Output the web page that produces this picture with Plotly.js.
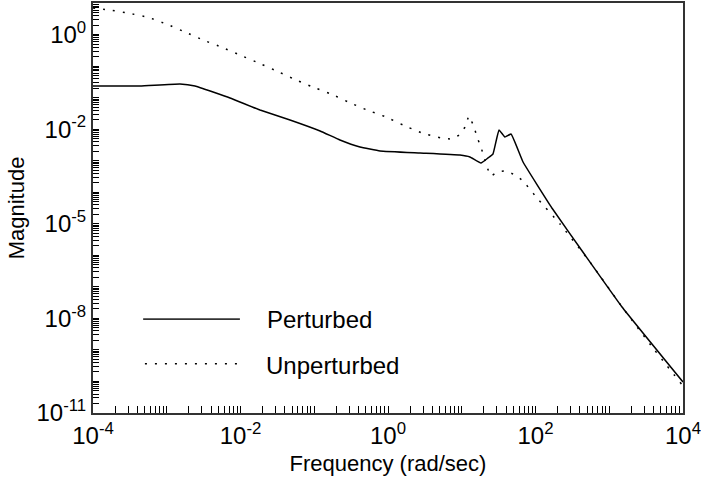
<!DOCTYPE html>
<html>
<head>
<meta charset="utf-8">
<script src="https://cdn.plot.ly/plotly-3.0.1.min.js"></script>
<style>html,body{margin:0;padding:0;background:#fff;}#chart{width:701px;height:484px;}</style>
</head>
<body>
<div id="chart"></div>
<script>
// Perturbed response (frequency in rad/sec, magnitude)
var perturbedFreq = [1.00e-4, 4.34e-4, 1.51e-3, 2.42e-3, 7.21e-3, 1.84e-2, 4.69e-2, 1.20e-1, 2.23e-1, 4.17e-1, 7.80e-1,
  2.72, 9.46, 12.9, 18.2, 22.7, 26.5, 32.0, 38.5, 46.6, 67.8, 167, 469, 1490, 10000];
var perturbedMag = [0.233, 0.233, 0.270, 0.233, 0.0970, 0.0405, 0.0195, 8.73e-3, 4.53e-3, 2.72e-3, 2.03e-3,
  1.75e-3, 1.51e-3, 1.31e-3, 8.43e-4, 1.22e-3, 1.63e-3, 9.40e-3, 5.64e-3, 7.01e-3, 9.08e-4, 3.16e-5, 1.02e-6, 2.30e-8, 9.62e-11];

// Unperturbed response
var unperturbedFreq = [1.00e-4, 1.70e-4, 3.08e-4, 5.57e-4, 1.01e-3, 1.82e-3, 3.10e-3, 5.61e-3, 9.84e-3, 1.73e-2, 3.03e-2,
  5.31e-2, 9.31e-2, 1.69e-1, 2.96e-1, 5.19e-1, 9.40e-1, 1.60, 2.89, 5.24, 7.38, 9.18, 11.1, 12.5, 14.7, 16.1, 18.2,
  20.0, 22.0, 24.9, 30.1, 39.8, 52.7, 67.8, 102, 215, 548, 1530, 3920, 10000];
var unperturbedMag = [69.3, 60.0, 47.1, 35.2, 21.1, 11.7, 6.70, 3.94, 2.24, 1.28, 0.713,
  0.389, 0.222, 0.130, 0.0710, 0.0405, 0.0243, 0.0135, 7.55e-3, 5.24e-3, 4.86e-3, 6.52e-3, 1.17e-2, 2.61e-2, 1.17e-2, 5.64e-3, 2.72e-3,
  1.31e-3, 6.31e-4, 3.27e-4, 4.38e-4, 4.71e-4, 3.52e-4, 2.27e-4, 7.05e-5, 9.82e-6, 6.14e-7, 2.13e-8, 1.15e-9, 7.18e-11];

var seriesNames = ["Perturbed", "Unperturbed"];

// Tick labels (as printed in the reference)
var xTickVals = [1e-4, 1e-2, 1e0, 1e2, 1e4];
var xTickTexts = ["10<sup>-4</sup>", "10<sup>-2</sup>", "10<sup>0</sup>", "10<sup>2</sup>", "10<sup>4</sup>"];
var yTickVals = [1e-11, 1e-8, 1e-5, 1e-2, 1e1];
var yTickTexts = ["10<sup>-11</sup>", "10<sup>-8</sup>", "10<sup>-5</sup>", "10<sup>-2</sup>", "10<sup>0</sup>"];

// minor tick positions: every 1..9 x decade inside the range
function minorTicks(d0, d1) {
  var vals = [];
  for (var d = d0; d <= d1; d++) {
    for (var m = 1; m <= 9; m++) {
      if (d === d1 && m > 1) break;
      vals.push(m * Math.pow(10, d));
    }
  }
  return vals;
}

var FONT = "Liberation Sans, Arial, Helvetica, sans-serif";

var traces = [
  {x: perturbedFreq, y: perturbedMag, name: seriesNames[0], type: "scatter", mode: "lines",
   line: {color: "#000", width: 1.5, shape: "spline", smoothing: 0.3}},
  {x: unperturbedFreq, y: unperturbedMag, name: seriesNames[1], type: "scatter", mode: "lines",
   line: {color: "#000", width: 1.5, dash: "2px,8px", shape: "spline", smoothing: 0.3}}
];

var layout = {
  width: 701, height: 484,
  margin: {l: 93, r: 18, t: 3, b: 71},
  paper_bgcolor: "#fff", plot_bgcolor: "#fff",
  showlegend: false,
  font: {family: FONT, color: "#000", size: 24},
  xaxis: {
    type: "log", range: [-4, 4.0001],
    tickmode: "array", tickvals: xTickVals, ticktext: xTickTexts, tickangle: 0,
    ticks: "inside", ticklen: 7, tickwidth: 1, tickcolor: "#000",
    minor: {tickmode: "array", tickvals: minorTicks(-4, 4), ticks: "inside", ticklen: 7, tickwidth: 1, tickcolor: "#000", showgrid: false},
    ticklabeloverflow: "allow",
    showline: true, linecolor: "#333", linewidth: 2, mirror: true,
    showgrid: false, zeroline: false,
    tickfont: {family: FONT, size: 24, color: "#000"},
    title: {text: "Frequency (rad/sec)", font: {family: FONT, size: 22, color: "#000"}, standoff: 8}
  },
  yaxis: {
    type: "log", range: [-11, 2],
    tickmode: "array", tickvals: yTickVals, ticktext: yTickTexts, tickangle: 0,
    ticks: "inside", ticklen: 6, tickwidth: 1, tickcolor: "#000",
    minor: {tickmode: "array", tickvals: minorTicks(-11, 2), ticks: "inside", ticklen: 6, tickwidth: 1, tickcolor: "#000", showgrid: false},
    showline: true, linecolor: "#333", linewidth: 2, mirror: true,
    showgrid: false, zeroline: false,
    tickfont: {family: FONT, size: 24, color: "#000"},
    title: {text: "Magnitude", font: {family: FONT, size: 22, color: "#000"}, standoff: 6}
  },
  shapes: [
    {type: "line", xref: "paper", yref: "paper", x0: 0.085, x1: 0.249, y0: 0.229, y1: 0.229,
     line: {color: "#333", width: 1.6}},
    {type: "line", xref: "paper", yref: "paper", x0: 0.088, x1: 0.247, y0: 0.12, y1: 0.12,
     line: {color: "#000", width: 1.5, dash: "2px,8px"}}
  ],
  annotations: [
    {xref: "paper", yref: "paper", x: 0.292, y: 0.229, xanchor: "left", yanchor: "middle", showarrow: false,
     text: seriesNames[0], font: {family: FONT, size: 24, color: "#000"}},
    {xref: "paper", yref: "paper", x: 0.29, y: 0.115, xanchor: "left", yanchor: "middle", showarrow: false,
     text: seriesNames[1], font: {family: FONT, size: 24, color: "#000"}}
  ]
};

Plotly.newPlot("chart", traces, layout, {displayModeBar: false, staticPlot: true});
</script>
</body>
</html>
